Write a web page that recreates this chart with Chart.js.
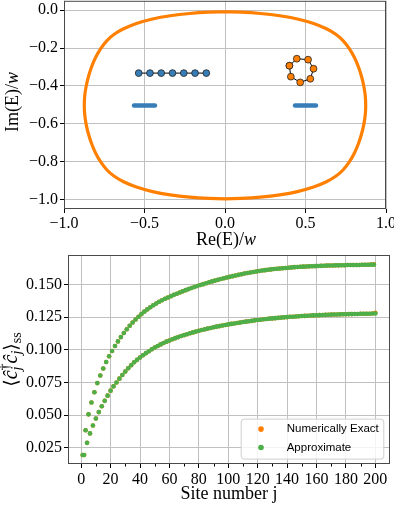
<!DOCTYPE html>
<html>
<head>
<meta charset="utf-8">
<script src="https://cdn.jsdelivr.net/npm/chart.js@4.4.1/dist/chart.umd.min.js"></script>
<style>
  html, body { margin: 0; padding: 0; background: #fff; overflow: hidden; }
  body { width: 394px; height: 505px; position: relative; }
  canvas { position: absolute; left: 0; }
  #spectrum { top: -4px; }
  #occupation { top: 250px; }
</style>
</head>
<body>
<canvas id="spectrum" width="394" height="254"></canvas>
<canvas id="occupation" width="394" height="255"></canvas>
<script>
// top panel: spectrum in the complex plane
const loopX = [0, 0.10, 0.22, 0.34, 0.45, 0.55, 0.63, 0.690, 0.733, 0.770, 0.804, 0.829, 0.848, 0.862, 0.871, 0.874,
  0.871, 0.862, 0.848, 0.829, 0.804, 0.770, 0.733, 0.690, 0.63, 0.55, 0.45, 0.34, 0.22, 0.10, 0,
  -0.10, -0.22, -0.34, -0.45, -0.55, -0.63, -0.690, -0.733, -0.770, -0.804, -0.829, -0.848, -0.862, -0.871, -0.874,
  -0.871, -0.862, -0.848, -0.829, -0.804, -0.770, -0.733, -0.690, -0.63, -0.55, -0.45, -0.34, -0.22, -0.10, 0];
const loopY = [-0.008, -0.010, -0.017, -0.029, -0.046, -0.070, -0.098, -0.128, -0.160, -0.200, -0.250, -0.300, -0.350, -0.400, -0.450, -0.502,
  -0.554, -0.604, -0.654, -0.704, -0.754, -0.804, -0.844, -0.876, -0.906, -0.934, -0.958, -0.975, -0.987, -0.994, -0.996,
  -0.994, -0.987, -0.975, -0.958, -0.934, -0.906, -0.876, -0.844, -0.804, -0.754, -0.704, -0.654, -0.604, -0.554, -0.502,
  -0.450, -0.400, -0.350, -0.300, -0.250, -0.200, -0.160, -0.128, -0.098, -0.070, -0.046, -0.029, -0.017, -0.010, -0.008];
const chainX = [-0.536, -0.466, -0.396, -0.326, -0.256, -0.186, -0.116];
const chainY = [-0.332, -0.332, -0.332, -0.332, -0.332, -0.332, -0.332];
const ringX = [0.400, 0.446, 0.516, 0.550, 0.530, 0.467, 0.409, 0.400];
const ringY = [-0.293, -0.256, -0.261, -0.309, -0.362, -0.381, -0.351, -0.293];
const bandLeftX = [-0.565, -0.435];
const bandRightX = [0.435, 0.565];
const bandY = [-0.503, -0.503];
const reTicks = [-1, -0.5, 0, 0.5, 1];
const imTicks = [0, -0.2, -0.4, -0.6, -0.8, -1];

// bottom panel: steady state occupation per site
const siteTicks = [0, 20, 40, 60, 80, 100, 120, 140, 160, 180, 200];
const siteMinorTicks = [10, 30, 50, 70, 90, 110, 130, 150, 170, 190];
const occTicks = [0.025, 0.05, 0.075, 0.1, 0.125, 0.15];
// sites 1, 3, ..., 199
const approxOdd = [
  0.0195, 0.0384, 0.0506, 0.0597, 0.0675, 0.0745, 0.0803, 0.0857, 0.0906, 0.0950,
  0.0991, 0.1029, 0.1064, 0.1097, 0.1128, 0.1157, 0.1184, 0.1209, 0.1232, 0.1253,
  0.1273, 0.1292, 0.1309, 0.1325, 0.1340, 0.1354, 0.1367, 0.1379, 0.1390, 0.1400,
  0.1410, 0.1420, 0.1429, 0.1438, 0.1447, 0.1456, 0.1464, 0.1472, 0.1480, 0.1488,
  0.1495, 0.1502, 0.1509, 0.1516, 0.1523, 0.1529, 0.1535, 0.1541, 0.1547, 0.1553,
  0.1558, 0.1563, 0.1568, 0.1573, 0.1578, 0.1583, 0.1587, 0.1591, 0.1595, 0.1599,
  0.1603, 0.1606, 0.1609, 0.1612, 0.1615, 0.1618, 0.1620, 0.1622, 0.1624, 0.1626,
  0.1628, 0.1630, 0.1632, 0.1633, 0.1635, 0.1636, 0.1637, 0.1638, 0.1639, 0.1640,
  0.1641, 0.1642, 0.1643, 0.1644, 0.1645, 0.1645, 0.1646, 0.1646, 0.1647, 0.1647,
  0.1648, 0.1648, 0.1649, 0.1649, 0.1649, 0.1650, 0.1650, 0.1650, 0.1651, 0.1651];
// sites 2, 4, ..., 200
const approxEven = [
  0.0195, 0.0288, 0.0360, 0.0420, 0.0474, 0.0523, 0.0568, 0.0609, 0.0649, 0.0687,
  0.0720, 0.0750, 0.0779, 0.0807, 0.0833, 0.0858, 0.0882, 0.0904, 0.0923, 0.0941,
  0.0958, 0.0974, 0.0989, 0.1004, 0.1017, 0.1029, 0.1041, 0.1052, 0.1062, 0.1071,
  0.1080, 0.1089, 0.1097, 0.1105, 0.1112, 0.1119, 0.1126, 0.1133, 0.1139, 0.1145,
  0.1151, 0.1156, 0.1162, 0.1167, 0.1172, 0.1177, 0.1181, 0.1186, 0.1190, 0.1194,
  0.1198, 0.1201, 0.1205, 0.1208, 0.1212, 0.1215, 0.1218, 0.1221, 0.1225, 0.1228,
  0.1230, 0.1233, 0.1235, 0.1238, 0.1240, 0.1242, 0.1244, 0.1246, 0.1248, 0.1250,
  0.1252, 0.1253, 0.1255, 0.1256, 0.1258, 0.1259, 0.1260, 0.1262, 0.1263, 0.1264,
  0.1265, 0.1266, 0.1267, 0.1268, 0.1269, 0.1270, 0.1270, 0.1271, 0.1272, 0.1272,
  0.1273, 0.1273, 0.1274, 0.1274, 0.1275, 0.1275, 0.1276, 0.1276, 0.1277, 0.1277];
// exact result is hidden under the approximation, except at sites 199 and 200
const exactTail = [0.1653, 0.1282];

const SERIF = '"Liberation Serif", "DejaVu Serif", serif';
const GRID = '#c0c0c0';
const ORANGE = '#ff7f00', BLUE = '#377eb8', GREEN = '#4daf4a';

const pts = (xs, ys) => xs.map((x, i) => ({ x, y: ys[i] }));

function siteSeries(odd, even) {
  let out = [];
  odd.forEach((v, i) => {
    out.push({ x: 2 * i + 1, y: v });
    out.push({ x: 2 * i + 2, y: even[i] });
  });
  return out;
}

const fmt = (v, d) => (v < -1e-9 ? '\u2212' : '') + Math.abs(v).toFixed(d);

function axis(min, max, ticks, digits, size, pad) {
  return {
    type: 'linear', min, max,
    afterBuildTicks: s => { s.ticks = ticks.map(v => ({ value: v })); },
    afterFit: s => {
      if (s.isHorizontal()) s.height = size; else s.width = size;
      s.paddingTop = s.paddingBottom = s.paddingLeft = s.paddingRight = 0;
    },
    border: { display: false },
    grid: { color: GRID, lineWidth: 1, tickColor: '#000', tickLength: 4, tickWidth: 1 },
    ticks: {
      color: '#000', padding: pad, autoSkip: false, maxRotation: 0,
      font: { family: SERIF, size: 16 },
      callback: v => fmt(v, digits)
    }
  };
}

function richText(ctx, parts, x, y, angle) {
  ctx.save();
  ctx.translate(x, y);
  ctx.rotate(angle);
  let w = 0;
  parts.forEach(p => { ctx.font = p.font; p.w = ctx.measureText(p.t).width; if (!p.hold) w += p.w; });
  let cx = -w / 2;
  ctx.fillStyle = '#000';
  ctx.textAlign = 'left';
  ctx.textBaseline = 'alphabetic';
  parts.forEach(p => {
    ctx.font = p.font;
    ctx.fillText(p.t, cx, p.dy || 0);
    if (!p.hold) cx += p.w;
  });
  ctx.restore();
}

function frame(chart) {
  const { ctx, chartArea: a } = chart;
  ctx.save();
  ctx.strokeStyle = '#4a4a4a';
  ctx.lineWidth = 1;
  ctx.strokeRect(a.left + 0.5, a.top + 0.5, a.right - a.left - 1, a.bottom - a.top - 1);
  ctx.restore();
}

const spectrumDecor = {
  id: 'spectrumDecor',
  afterDraw(chart) {
    const { ctx, chartArea: a } = chart;
    frame(chart);
    richText(ctx, [
      { t: 'Re(E)/', font: `18px ${SERIF}` },
      { t: 'w', font: `italic 18px ${SERIF}` }
    ], (a.left + a.right) / 2 + 1, 249, 0);
    richText(ctx, [
      { t: 'Im(E)/', font: `18px ${SERIF}` },
      { t: 'w', font: `italic 18px ${SERIF}` }
    ], 17.5, (a.top + a.bottom) / 2 - 3, -Math.PI / 2);
  }
};

const occupationDecor = {
  id: 'occupationDecor',
  afterDraw(chart) {
    const { ctx, chartArea: a } = chart;
    const xs = chart.scales.x;
    frame(chart);

    ctx.save();
    ctx.strokeStyle = '#000';
    ctx.lineWidth = 1;
    siteMinorTicks.forEach(v => {
      const px = Math.round(xs.getPixelForValue(v)) + 0.5;
      ctx.beginPath();
      ctx.moveTo(px, a.bottom);
      ctx.lineTo(px, a.bottom + 2.5);
      ctx.stroke();
    });
    ctx.restore();

    richText(ctx, [{ t: 'Site number j', font: `18px ${SERIF}` }], (a.left + a.right) / 2, 249, 0);
    richText(ctx, [
      { t: '\u27e8', font: `19px ${SERIF}` },
      { t: '\u0109', font: `italic 20px ${SERIF}` },
      { t: 'j', font: `italic 14px ${SERIF}`, dy: 4, hold: true },
      { t: '\u2020', font: `14px ${SERIF}`, dy: -8 },
      { t: '\u0109', font: `italic 20px ${SERIF}` },
      { t: 'j', font: `italic 14px ${SERIF}`, dy: 4 },
      { t: '\u27e9', font: `19px ${SERIF}` },
      { t: 'ss', font: `14px ${SERIF}`, dy: 4 }
    ], 17, (a.top + a.bottom) / 2, -Math.PI / 2);

    // legend box in the lower right corner
    const w = 142.6, h = 40;
    const x0 = a.right - 6.7 - w, y0 = a.bottom - 5.4 - h;
    ctx.save();
    ctx.beginPath();
    ctx.roundRect(x0 + 0.5, y0 + 0.5, w, h, 3);
    ctx.fillStyle = 'rgba(255,255,255,0.8)';
    ctx.fill();
    ctx.strokeStyle = '#cfcfcf';
    ctx.lineWidth = 1;
    ctx.stroke();
    chart.data.datasets.forEach((ds, i) => {
      const cy = y0 + 10.5 + i * 18.4;
      ctx.beginPath();
      ctx.arc(x0 + 20.3, cy, 2.8, 0, Math.PI * 2);
      ctx.fillStyle = ds.backgroundColor;
      ctx.fill();
      ctx.font = '11.5px "Liberation Sans", Arial, sans-serif';
      ctx.fillStyle = '#000';
      ctx.textBaseline = 'middle';
      ctx.fillText(ds.label, x0 + 46, cy);
    });
    ctx.restore();
  }
};

Chart.defaults.color = '#000';

new Chart(document.getElementById('spectrum'), {
  type: 'scatter',
  data: {
    datasets: [
      {
        label: 'ring', data: pts(ringX, ringY), showLine: true, order: 0,
        borderColor: '#000', borderWidth: 1,
        pointRadius: 3.4, pointBackgroundColor: ORANGE, pointBorderColor: '#222', pointBorderWidth: 0.8
      },
      {
        label: 'chain', data: pts(chainX, chainY), showLine: true, order: 1,
        borderColor: '#000', borderWidth: 1,
        pointRadius: 3.4, pointBackgroundColor: BLUE, pointBorderColor: '#222', pointBorderWidth: 0.8
      },
      {
        label: 'band left', data: pts(bandLeftX, bandY), showLine: true, order: 2,
        borderColor: BLUE, borderWidth: 4.5, borderCapStyle: 'round', pointRadius: 0
      },
      {
        label: 'band right', data: pts(bandRightX, bandY), showLine: true, order: 2,
        borderColor: BLUE, borderWidth: 4.5, borderCapStyle: 'round', pointRadius: 0
      },
      {
        label: 'loop', data: pts(loopX, loopY), showLine: true, order: 3,
        borderColor: ORANGE, borderWidth: 3.2, tension: 0.35, pointRadius: 0
      }
    ]
  },
  options: {
    responsive: false, animation: false, events: [],
    layout: { padding: { top: 2, left: 0, right: 8, bottom: 0 } },
    plugins: { legend: { display: false }, tooltip: { enabled: false } },
    scales: {
      x: axis(-1, 1, reTicks, 1, 41, 1),
      y: axis(-1.05, 0.05, imTicks, 1, 64, 2)
    }
  },
  plugins: [spectrumDecor]
});

const approxData = siteSeries(approxOdd, approxEven);
const exactData = siteSeries(approxOdd.slice(0, -1).concat(exactTail[0]), approxEven.slice(0, -1).concat(exactTail[1]));

new Chart(document.getElementById('occupation'), {
  type: 'scatter',
  data: {
    datasets: [
      {
        label: 'Numerically Exact', data: exactData, order: 1,
        backgroundColor: ORANGE, pointRadius: 2.3, pointBorderWidth: 0
      },
      {
        label: 'Approximate', data: approxData, order: 0,
        backgroundColor: GREEN, pointRadius: 2.3, pointBorderWidth: 0
      }
    ]
  },
  options: {
    responsive: false, animation: false, events: [],
    layout: { padding: { top: 5, left: 0, right: 4, bottom: 0 } },
    plugins: { legend: { display: false }, tooltip: { enabled: false } },
    scales: {
      x: axis(-8.95, 209.95, siteTicks, 0, 41, 2),
      y: axis(0.0126, 0.1725, occTicks, 3, 68, 2)
    }
  },
  plugins: [occupationDecor]
});
</script>
</body>
</html>
